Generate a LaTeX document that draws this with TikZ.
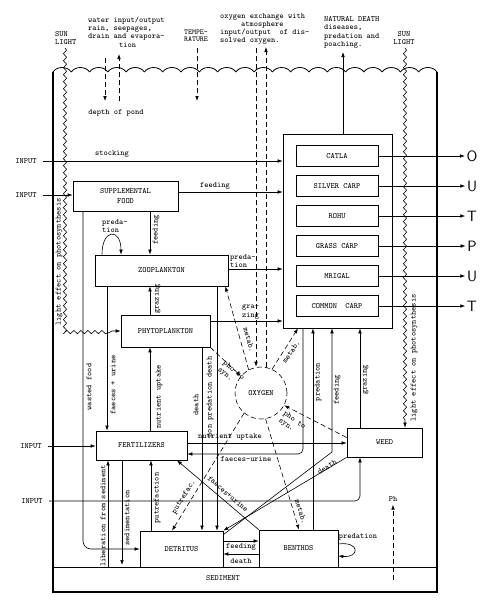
\documentclass[tikz,border=0pt]{standalone}
\usetikzlibrary{arrows.meta,decorations.pathmorphing}
\tikzset{
  box/.style={draw, line width=0.7pt, rectangle, inner sep=0pt, font=\ttfamily\footnotesize},
  tag/.style={inner sep=0pt, font=\ttfamily\footnotesize},
  ml/.style={align=left, font=\ttfamily\fontsize{8}{8.3}\selectfont},
  inp/.style={tag, inner xsep=6pt},
  conn/.style={line width=0.6pt, -{Latex[length=5pt,width=3.6pt]}},
  dconn/.style={conn, dash pattern=on 5pt off 3pt},
  wavy/.style={decorate, decoration={snake, amplitude=1.6pt, segment length=7pt, post length=6pt}},
}
\begin{document}
\begin{tikzpicture}[x=1pt,y=-1pt]
\useasboundingbox (0,0) rectangle (500,616);

\draw[line width=1.2pt] (53,72) -- (53,592) -- (437,592) -- (437,72);
\draw[line width=0.8pt] (53,567) -- (437,567);
\foreach \i in {0,...,20}
  \draw[line width=0.8pt] (53+18.286*\i,72) .. controls +(4,-6) and +(-4,-6) .. (71.286+18.286*\i,72);
\node[tag] (sed) at (223,578) {SEDIMENT};

\node[tag, ml, anchor=west] (sunl) at (55,38) {SUN\\LIGHT};
\node[tag, ml, align=center] (sunr) at (404,38) {SUN\\LIGHT};
\node[tag, ml, anchor=west] (water) at (88,32) {water input/output\\rain, seepages,\\drain and evapora-\\\hspace*{31pt}tion};
\node[tag] (depth) at (116,113) {depth of pond};
\node[tag, align=center, font=\ttfamily\fontsize{7.5}{7}\selectfont] (temp) at (196,36) {TEMPE-\\RATURE};
\node[tag, ml, anchor=west] (oxex) at (220,29) {oxygen exchange with\\\hspace*{21pt}atmosphere\\input/output\ \ of dis-\\solved oxygen.};
\node[tag, ml, anchor=west] (natd) at (324,32.5) {NATURAL DEATH\\diseases,\\predation and\\poaching.};

\node[box, minimum width=105pt, minimum height=30pt, align=center] (supp) at (125.5,196) {SUPPLEMENTAL\\FOOD};
\node[box, minimum width=133pt, minimum height=31pt] (zoo) at (161.5,270.5) {ZOOPLANKTON};
\node[box, minimum width=89pt, minimum height=32pt] (phyto) at (165.5,331) {PHYTOPLANKTON};
\node[box, minimum width=91pt, minimum height=29pt] (fert) at (141.5,445.5) {FERTILIZERS};
\node[box, minimum width=83pt, minimum height=36pt] (detr) at (181.5,549) {DETRITUS};
\node[box, minimum width=79pt, minimum height=37pt] (benth) at (298.5,548.5) {BENTHOS};
\node[box, minimum width=75pt, minimum height=29pt] (weed) at (384.5,442.5) {WEED};
\node[box, minimum width=109pt, minimum height=194pt] (fish) at (337.5,231) {};
\node[draw, circle, dash pattern=on 5pt off 3pt, line width=0.6pt, minimum size=52pt, inner sep=0pt, font=\ttfamily\footnotesize] (oxy) at (261,393) {OXYGEN};

\foreach \n/\t/\l [count=\k] in {catla/CATLA/O, silver/SILVER CARP/U, rohu/ROHU/T, grass/GRASS CARP/P, mrigal/MRIGAL/U, common/COMMON\ \ CARP/T}
  {
  \node[box, minimum width=82pt, minimum height=21pt] (\n) at (337,126+30*\k) {\t};
  \node[inner sep=1.5pt, font=\sffamily\fontsize{15}{15}\selectfont] (out\k) at (472,126+30*\k) {\l};
  \draw[conn] (\n) -- (out\k);
  }

\node[inp] (in1) at (26,161) {INPUT};
\node[inp] (in2) at (26,195) {INPUT};
\node[inp] (in3) at (31,446) {INPUT};
\node[inp] (in4) at (32,501) {INPUT};

\draw[conn] (in1) -- (in1 -| fish.west);
\node[tag] (lstock) at (112,154) {stocking};
\draw[conn] (in2) -- (in2 -| supp.west);
\draw[conn] (supp.east |- 0,192) -- (fish.west |- 0,192);
\node[tag] (lfeed1) at (215,186) {feeding};
\draw[conn] (supp.south -| 150,0) -- (zoo.north -| 150,0);
\node[tag, rotate=90] (lfeed2) at (156,230) {feeding};
\draw[conn] (zoo.north -| 102,0) .. controls (102,228) and (121,228) .. (zoo.north -| 121,0);
\node[tag, ml, anchor=west] (lpred1) at (102,226) {preda-\\tion};
\draw[conn] (zoo.east |- 0,269) -- (fish.west |- 0,269);
\node[tag, ml, anchor=west] (lpred2) at (230,261) {preda-\\tion};
\draw[conn] (phyto.east |- 0,321) -- (fish.west |- 0,321);
\node[tag, ml, anchor=west] (lgraz1) at (242,312) {gra-\\zing};

\draw[conn] (phyto.north -| 150,0) -- (zoo.south -| 150,0);
\node[tag, rotate=90] (lgraz2) at (157,299) {grazing};
\draw[conn] (fert.north -| 150,0) -- (phyto.south -| 150,0);
\node[tag, rotate=90] (lnut1) at (159,397) {nutrient uptake};
\draw[conn] (zoo.south -| 107,0) -- (fert.north -| 107,0);
\node[tag, rotate=90] (lfaec1) at (113,385) {faeces + urine};
\draw[conn, rounded corners=8pt] (supp.south -| 83,0) |- (detr.west);
\node[tag, rotate=90] (lwaste) at (89,387) {wasted food};
\draw[conn] (phyto.south -| 202,0) -- (detr.north -| 202,0);
\node[tag, rotate=90] (ldeath1) at (196,405) {death};
\draw[conn] (zoo.south -| 217,0) -- (detr.north -| 217,0);
\node[tag, rotate=90] (ldeath2) at (210,397) {non predation death};

\draw[conn] (108,567) -- (fert.south -| 108,0);
\node[tag, rotate=90] (llib) at (103,516) {liberation from sediment};
\draw[conn] (fert.south -| 122,0) -- (122,565);
\node[tag, rotate=90] (lsedim) at (127,518) {sedimentation};
\draw[conn] (detr.north -| 151,0) -- (fert.south -| 151,0);
\node[tag, rotate=90] (lputr) at (157,498) {putrefaction};
\draw[conn] (benth.north west) -- (fert.south -| 177,0);
\node[tag, rotate=-41] (lfaec2) at (228,494) {faeces+urine};
\draw[conn] (detr.east |- 0,541) -- (benth.west |- 0,541);
\node[tag] (lfeed3) at (241,547) {feeding};
\draw[conn] (benth.west |- 0,554) -- (detr.east |- 0,554);
\node[tag] (ldeath3) at (241,561) {death};
\draw[conn] (benth.east |- 0,544) .. controls (360,541) and (360,558) .. (benth.east |- 0,556);
\node[tag] (lpred3) at (358,537) {predation};

\draw[conn] (fert.east |- 0,443) -- (weed.west |- 0,443);
\node[tag] (lnut2) at (230,437) {nutrient uptake};
\draw[conn, rounded corners=5pt] (fish.south -| 303,0) |- (fert.east |- 0,454);
\node[tag] (lfaec3) at (246,459) {faeces-urine};
\draw[conn] (benth.north -| 313,0) -- (fish.south -| 313,0);
\node[tag, rotate=90] (lpred4) at (318,382) {predation};
\draw[conn] ([yshift=-4pt]detr.north east) -- (332,452) -- (fish.south -| 332,0);
\node[tag, rotate=90] (lfeed4) at (337,390) {feeding};
\draw[conn] (weed.south west) -- (detr.north east);
\node[tag, rotate=32] (ldeath4) at (327,467) {death};
\draw[conn] (weed.north -| 360,0) -- (fish.south -| 360,0);
\node[tag, rotate=90] (lgraz3) at (365,380) {grazing};
\draw[conn, rounded corners=5pt] (in4.east) -| (weed.south -| 360,0);
\draw[conn] (in3) -- (in3 -| fert.west);

\draw[dconn] (105,58) -- (105,101);
\draw[dconn] (119,101) -- (119,54);
\draw[dconn] (197,48) -- (197,101);
\draw[dconn] (256,48) -- (oxy.north -| 256,0);
\draw[dconn] (oxy.north -| 266,0) -- (266,47);
\draw[conn] (fish.north -| 343,0) -- (343,52);

\draw[dconn] (oxy.118) -- ([xshift=-3pt]zoo.south east);
\node[tag, rotate=-75] (lmet1) at (249,340) {metab.};
\draw[dconn] (oxy.65) -- (fish.south -| 298,0);
\node[tag, rotate=56] (lmet2) at (291,352) {metab.};
\draw[dconn] (phyto.south east) -- (oxy.140);
\node[tag, ml, rotate=-40] (lphot1) at (231,374) {pho to\\syn.};
\draw[dconn] ([yshift=5pt]weed.west) -- (oxy.-28);
\node[tag, ml, rotate=-35] (lphot2) at (292,424) {pho to\\syn.};
\draw[dconn] (oxy.-130) -- (detr.north -| 172,0);
\node[tag, rotate=58] (lputr2) at (184,497) {putrefac.};
\draw[dconn] (oxy.-80) -- (benth.north -| 299,0);
\node[tag, rotate=-73] (lmet3) at (301,512) {metab.};

\node[tag] (ph) at (393,499) {Ph};
\draw[dconn, shorten >=3pt] (393,580) -- (ph.south);

\draw[wavy, conn] (65,48) -- (65,331) -- (phyto.west);
\node[tag, rotate=90] (llight1) at (59,262) {light effect on photosynthesis};
\draw[wavy, conn] (405,48) -- (weed.north -| 405,0);
\node[tag, rotate=90] (llight2) at (414,358) {light effect on photosynthesis};
\end{tikzpicture}
\end{document}
